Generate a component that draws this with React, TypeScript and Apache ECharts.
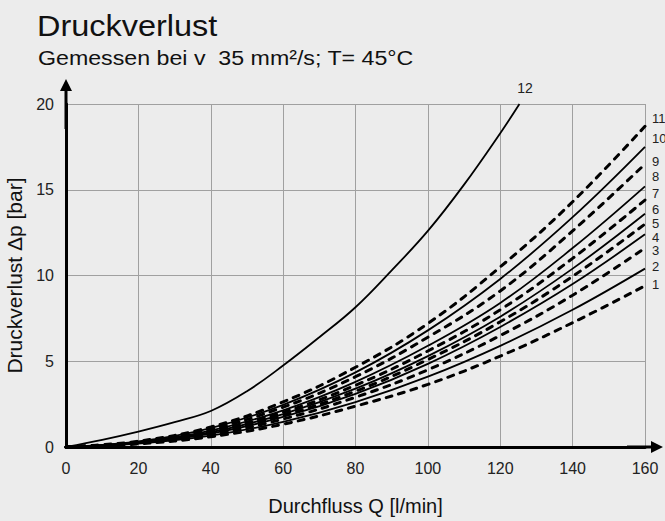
import React, { useEffect, useRef } from "react";
import * as echarts from "echarts";

// Flow rate sample points [l/min]
const flow = [0, 20, 40, 60, 80, 100, 120, 140, 160];

// Pressure loss [bar] for curves 1..11 (odd = dashed, even = solid)
const curve1 = [0, 0.18, 0.6, 1.33, 2.38, 3.65, 5.3, 7.25, 9.4];
const curve2 = [0, 0.2, 0.66, 1.47, 2.62, 4.1, 5.9, 8.0, 10.4];
const curve3 = [0, 0.22, 0.73, 1.63, 2.9, 4.5, 6.5, 8.85, 11.6];
const curve4 = [0, 0.23, 0.78, 1.75, 3.1, 4.85, 7.0, 9.5, 12.4];
const curve5 = [0, 0.24, 0.82, 1.84, 3.25, 5.1, 7.3, 9.95, 13.0];
const curve6 = [0, 0.25, 0.86, 1.92, 3.4, 5.3, 7.6, 10.4, 13.6];
const curve7 = [0, 0.27, 0.91, 2.03, 3.6, 5.6, 8.0, 11.0, 14.4];
const curve8 = [0, 0.28, 0.96, 2.14, 3.8, 5.9, 8.4, 11.6, 15.2];
const curve9 = [0, 0.3, 1.04, 2.32, 4.1, 6.4, 9.1, 12.6, 16.5];
const curve10 = [0, 0.32, 1.1, 2.46, 4.35, 6.8, 9.8, 13.4, 17.5];
const curve11 = [0, 0.34, 1.17, 2.63, 4.65, 7.2, 10.5, 14.3, 18.7];

// Curve 12 (solid, steep)
const flow12 = [0, 10, 20, 30, 40, 50, 60, 70, 80, 90, 100, 110, 120, 125.3];
const curve12 = [0, 0.42, 0.9, 1.45, 2.1, 3.25, 4.75, 6.4, 8.15, 10.3, 12.6, 15.3, 18.3, 20];

const curves = [curve1, curve2, curve3, curve4, curve5, curve6, curve7, curve8, curve9, curve10, curve11];
const curveNames = ["1", "2", "3", "4", "5", "6", "7", "8", "9", "10", "11"];

const xTicks = { min: 0, max: 160, interval: 20 };
const yTicks = { min: 0, max: 20, interval: 5 };

const titleText = "Druckverlust";
const subtitleText = "Gemessen bei v  35 mm²/s; T= 45°C";
const xName = "Durchfluss Q [l/min]";
const yName = "Druckverlust Δp [bar]";

// label positions (layout)
const rightLabelY = [284, 266, 250, 237, 223, 209, 193, 176, 161, 138, 118];

export default function App() {
  const ref = useRef<HTMLDivElement>(null);
  useEffect(() => {
    if (!ref.current) return;
    const chart = echarts.init(ref.current, undefined, { renderer: "svg" });
    const font = "'Liberation Sans', Arial, sans-serif";
    const series: any[] = curves.map((c, k) => ({
      type: "line",
      name: curveNames[k],
      data: flow.map((q, i) => [q, c[i]]),
      smooth: 0.4,
      showSymbol: false,
      symbol: "none",
      lineStyle:
        k % 2 === 0
          ? { color: "#000", width: 3, type: [6, 7], cap: "round" }
          : { color: "#000", width: 1.8, type: "solid" },
      z: 3,
    }));
    series.push({
      type: "line",
      name: "12",
      data: flow12.map((q, i) => [q, curve12[i]]),
      smooth: 0.4,
      symbol: "none",
      lineStyle: { color: "#000", width: 1.8 },
      z: 3,
    });

    const graphic: any[] = [
      {
        type: "text",
        x: 37,
        y: 12,
        scaleX: 1.12,
        style: { text: titleText, font: `29px ${font}`, fill: "#111", verticalAlign: "top" },
      },
      {
        type: "text",
        x: 38,
        y: 48,
        scaleX: 1.16,
        style: { text: subtitleText, font: `20px ${font}`, fill: "#111", verticalAlign: "top" },
      },
      {
        type: "text",
        x: 525,
        y: 88,
        style: { text: "12", font: `14px ${font}`, fill: "#222", align: "center", verticalAlign: "middle" },
      },
    ];
    rightLabelY.forEach((y, k) => {
      graphic.push({
        type: "text",
        x: 652,
        y,
        style: {
          text: curveNames[k],
          font: `13px ${font}`,
          lineHeight: 13,
          fill: "#222",
          align: "left",
          verticalAlign: "middle",
        },
      });
    });

    chart.setOption({
      animation: false,
      backgroundColor: "#ececec",
      textStyle: { fontFamily: font },
      grid: {
        left: 66,
        right: 20,
        top: 104,
        bottom: 74,
        containLabel: false,
        outerBoundsMode: "none",
      },
      graphic,
      xAxis: {
        type: "value",
        ...xTicks,
        name: xName,
        nameLocation: "middle",
        nameGap: 49,
        nameTextStyle: { fontSize: 20, color: "#111", fontFamily: font },
        axisLine: {
          show: true,
          onZero: false,
          lineStyle: { color: "#000", width: 3 },
          symbol: ["none", "path://M6,0 L12,12 L7.5,12 L7.5,36 L4.5,36 L4.5,12 L0,12 Z"],
          symbolSize: [13, 36],
        },
        axisTick: { show: false },
        axisLabel: { fontSize: 16, color: "#222", margin: 13, fontFamily: font },
        splitLine: { show: true, lineStyle: { color: "#a0a0a0", width: 1 } },
      },
      yAxis: {
        type: "value",
        ...yTicks,
        name: yName,
        nameLocation: "middle",
        nameGap: 34,
        nameTextStyle: { fontSize: 21, color: "#111", fontFamily: font },
        axisLine: {
          show: true,
          onZero: false,
          lineStyle: { color: "#000", width: 3 },
          symbol: ["none", "path://M6,0 L12,12 L7.5,12 L7.5,50 L4.5,50 L4.5,12 L0,12 Z"],
          symbolSize: [13, 50],
        },
        axisTick: { show: false },
        axisLabel: { fontSize: 16, color: "#222", margin: 12, fontFamily: font },
        splitLine: { show: true, lineStyle: { color: "#a0a0a0", width: 1 } },
      },
      series,
    });
    return () => chart.dispose();
  }, []);
  return (
    <div
      ref={ref}
      style={{ position: "fixed", left: 0, top: 0, width: 665, height: 521 }}
    />
  );
}
